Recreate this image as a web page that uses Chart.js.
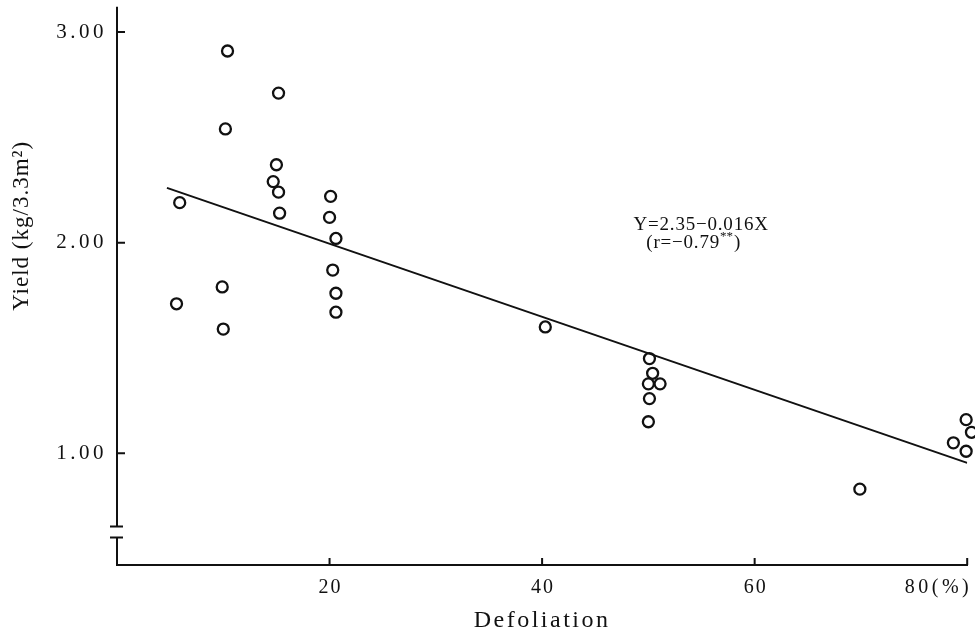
<!DOCTYPE html>
<html>
<head>
<meta charset="utf-8">
<script src="https://cdn.jsdelivr.net/npm/chart.js@4.4.1/dist/chart.umd.min.js"></script>
<style>
  html, body { margin: 0; padding: 0; background: #fff; }
  #wrap { width: 975px; height: 635px; }
</style>
</head>
<body>
<div id="wrap"><canvas id="yieldChart"></canvas></div>
<script>
// defoliation (%) against yield (kg/3.3m2)
const defoliation = [10.4, 15.2, 10.2, 15.0, 14.7, 15.2, 15.3, 5.9, 20.1, 20.0, 20.6, 20.3, 20.6, 20.6, 9.9, 5.6, 10.0,
  40.3, 50.1, 50.4, 50.0, 51.1, 50.1, 50.0, 79.9, 80.4, 78.7, 79.9, 69.9];
const yieldKg = [2.91, 2.71, 2.54, 2.37, 2.29, 2.24, 2.14, 2.19, 2.22, 2.12, 2.02, 1.87, 1.76, 1.67, 1.79, 1.71, 1.59,
  1.60, 1.45, 1.38, 1.33, 1.33, 1.26, 1.15, 1.16, 1.10, 1.05, 1.01, 0.83];

// regression line as drawn (end points)
const fitX = [4.7, 80];
const fitY = [2.26, 0.955];

const xTicks = [20, 40, 60, 80];
const xTickLabels = ['20', '40', '60', '80(%)'];
const yTicks = [1, 2, 3];
const axisBreak = [0.60, 0.653];   // gap in the y axis

const eqText = 'Y=2.35\u22120.016X';
const rText = ['(r=\u22120.79', '**', ')'];

const INK = '#111';
const SERIF = "'Liberation Serif', 'DejaVu Serif', serif";

// axes drawn the way the paper does it: inward ticks, broken y axis, own labels
const paperAxes = {
  id: 'paperAxes',
  beforeDraw(chart) { chart.ctx.letterSpacing = '3.5px'; },
  afterDraw(chart) {
    const { ctx, chartArea: a, scales: { x, y } } = chart;
    ctx.save();
    ctx.strokeStyle = INK;
    ctx.lineWidth = 2;

    const yHi = y.getPixelForValue(axisBreak[1]);
    const yLo = y.getPixelForValue(axisBreak[0]);
    ctx.beginPath();
    ctx.moveTo(a.left, a.top - 1); ctx.lineTo(a.left, yHi);
    ctx.moveTo(a.left - 7, yHi); ctx.lineTo(a.left + 6, yHi);
    ctx.moveTo(a.left - 7, yLo); ctx.lineTo(a.left + 6, yLo);
    ctx.moveTo(a.left, yLo); ctx.lineTo(a.left, a.bottom + 1);
    yTicks.forEach(v => { const p = y.getPixelForValue(v); ctx.moveTo(a.left, p); ctx.lineTo(a.left + 8, p); });
    xTicks.forEach(v => { const p = x.getPixelForValue(v); ctx.moveTo(p, a.bottom); ctx.lineTo(p, a.bottom - 7); });
    ctx.stroke();

    ctx.fillStyle = INK;
    ctx.textBaseline = 'middle';

    // x tick labels, last one ends at its tick
    ctx.font = '20px ' + SERIF;
    xTicks.forEach((v, i) => {
      const p = x.getPixelForValue(v);
      const last = i === xTicks.length - 1;
      ctx.letterSpacing = last ? '3.5px' : '2px';
      ctx.textAlign = last ? 'right' : 'center';
      ctx.fillText(xTickLabels[i], last ? p + 5 : p + 1, a.bottom + 23);
    });

    // axis titles
    ctx.font = '24px ' + SERIF;
    ctx.letterSpacing = '2.5px';
    ctx.textAlign = 'center';
    ctx.fillText('Defoliation', (a.left + a.right) / 2, a.bottom + 56);

    ctx.save();
    ctx.font = '23px ' + SERIF;
    ctx.letterSpacing = '1px';
    ctx.translate(22, y.getPixelForValue(2.08));
    ctx.rotate(-Math.PI / 2);
    ctx.fillText('Yield (kg/3.3m\u00b2)', 0, 0);
    ctx.restore();

    // regression equation
    ctx.textAlign = 'left';
    ctx.font = '19px ' + SERIF;
    ctx.letterSpacing = '0.8px';
    ctx.fillText(eqText, x.getPixelForValue(48.6), y.getPixelForValue(2.085));
    let rx = x.getPixelForValue(49.8);
    const ry = y.getPixelForValue(2.0);
    ctx.fillText(rText[0], rx, ry);
    rx += ctx.measureText(rText[0]).width;
    ctx.font = '13px ' + SERIF;
    ctx.letterSpacing = '0px';
    ctx.fillText(rText[1], rx, ry - 6);
    rx += ctx.measureText(rText[1]).width + 1;
    ctx.font = '19px ' + SERIF;
    ctx.fillText(rText[2], rx, ry);

    ctx.restore();
    chart.ctx.letterSpacing = '0px';
  }
};

new Chart(document.getElementById('yieldChart'), {
  type: 'scatter',
  data: {
    datasets: [
      {
        label: 'yield',
        data: defoliation.map((d, i) => ({ x: d, y: yieldKg[i] })),
        pointStyle: 'circle',
        pointRadius: 5.5,
        pointBorderWidth: 2.3,
        pointBorderColor: INK,
        pointBackgroundColor: 'rgba(0,0,0,0)',
        clip: false
      },
      {
        type: 'line',
        label: 'fit',
        data: fitX.map((d, i) => ({ x: d, y: fitY[i] })),
        borderColor: INK,
        borderWidth: 2,
        pointRadius: 0,
        fill: false
      }
    ]
  },
  options: {
    responsive: true,
    maintainAspectRatio: false,
    animation: false,
    events: [],
    layout: { padding: { top: 7, right: 7, left: 0, bottom: 0 } },
    plugins: { legend: { display: false }, tooltip: { enabled: false } },
    scales: {
      x: {
        type: 'linear', min: 0, max: 80,
        afterBuildTicks: s => { s.ticks = xTicks.map(v => ({ value: v })); },
        afterFit: s => { s.height = 70; s.paddingLeft = 0; s.paddingRight = 0; },
        grid: { display: false },
        border: { display: true, color: INK, width: 2 },
        ticks: { display: false }
      },
      y: {
        type: 'linear', min: 0.47, max: 3.115,
        afterBuildTicks: s => { s.ticks = yTicks.map(v => ({ value: v })); },
        afterFit: s => { s.width = 117; s.paddingTop = 0; s.paddingBottom = 0; },
        grid: { display: false },
        border: { display: false },
        ticks: {
          color: INK, padding: 2,
          font: { family: SERIF, size: 21 },
          callback: v => Number(v).toFixed(2)
        }
      }
    }
  },
  plugins: [paperAxes]
});
</script>
</body>
</html>
